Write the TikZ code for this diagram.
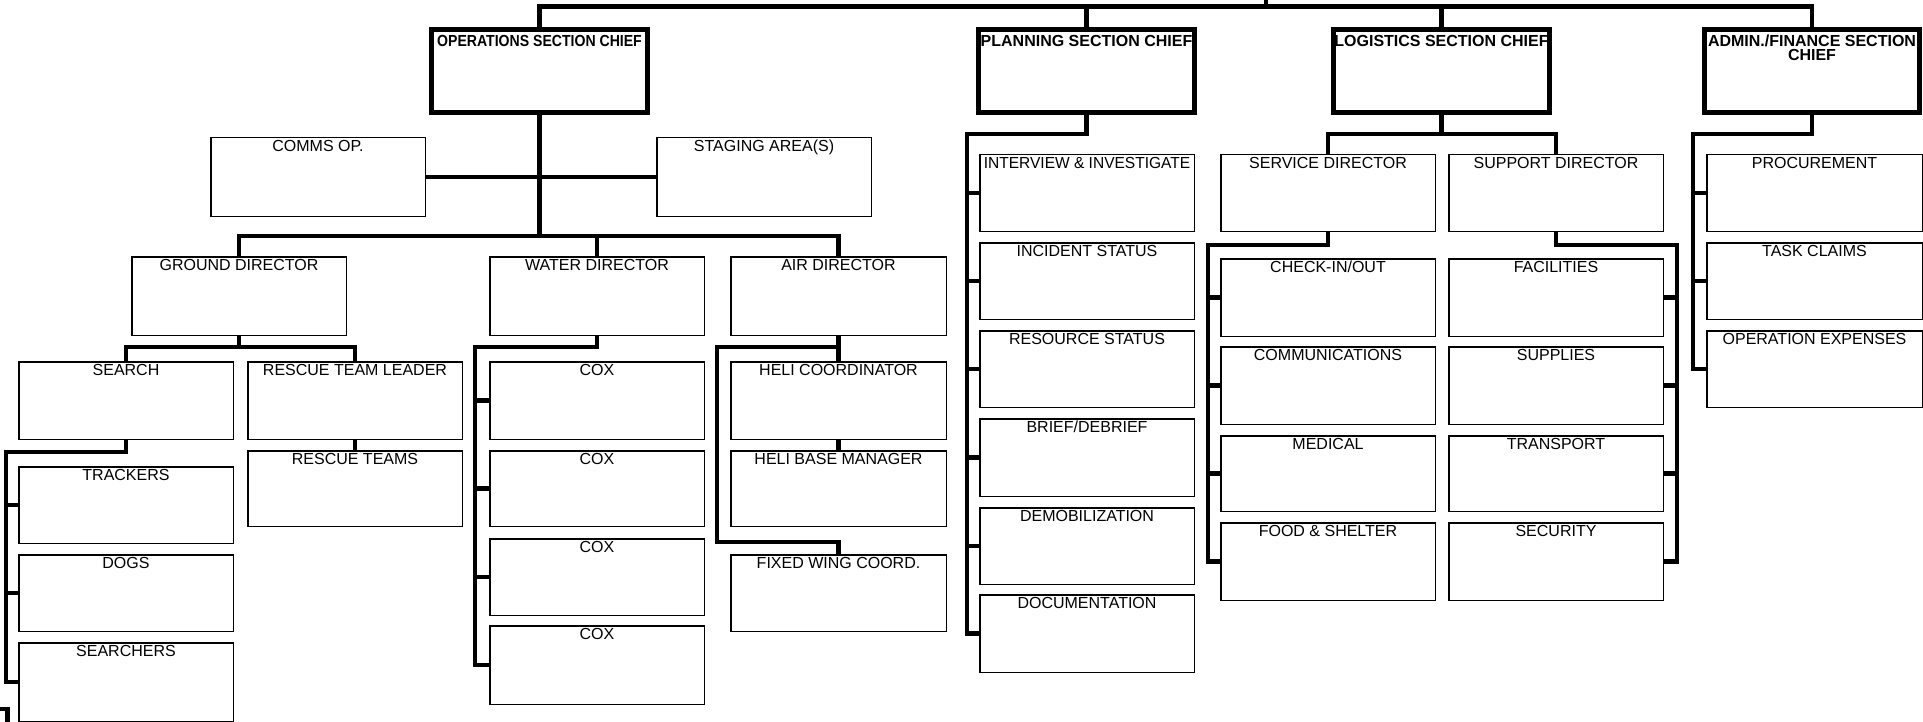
\documentclass[tikz,border=0pt]{standalone}
\usepackage{graphicx}
\usepackage{fontspec}
\setmainfont{Liberation Sans}
\newcommand\mkbox[8]{% #1 label style, #2 line width (pt), #3 name, #4 x, #5 y, #6 w, #7 h, #8 text
  \node[box, line width=#2pt, anchor=north west,
        minimum width={#6*0.5pt-#2pt}, minimum height={#7*0.5pt-#2pt}] (#3) at (#4,#5) {};
  \node[#1] (#3-t) at (#3.north) {#8};}
\begin{document}
\begin{tikzpicture}[x=0.5pt,y=-0.5pt,
  box/.style={draw=black, rectangle, inner sep=0pt},
  lbl/.style={inner sep=0pt, anchor=base, yshift=-7.1pt, font=\fontsize{8pt}{9pt}\selectfont},
  chieflbl/.style={inner sep=0pt, anchor=base, yshift=-9.8pt, font=\fontsize{8pt}{9pt}\selectfont\bfseries},
  chieflbltwo/.style={inner sep=0pt, anchor=north, yshift=-4pt, align=center, font=\fontsize{8pt}{6.75pt}\selectfont\bfseries},
  conn/.style={line width=2.1pt, line join=miter}]
\fill[white] (0,0) rectangle (1923,722);
\useasboundingbox (0,0) rectangle (1923,722);

% section chiefs
\mkbox{chieflbl}{2.5}{ops}{429}{27}{221}{88}{\scalebox{0.88}[1]{OPERATIONS SECTION CHIEF}}
\mkbox{chieflbl}{2.5}{plan}{976}{27}{221}{88}{PLANNING SECTION CHIEF}
\mkbox{chieflbl}{2.5}{log}{1331}{27}{221}{88}{LOGISTICS SECTION CHIEF}
\mkbox{chieflbltwo}{2.5}{adm}{1702}{27}{220}{88}{ADMIN./FINANCE SECTION\\CHIEF}

% operations
\mkbox{lbl}{0.75}{comms}{210}{137}{216}{80}{COMMS OP.}
\mkbox{lbl}{0.75}{stag}{656}{137}{216}{80}{STAGING AREA(S)}
\mkbox{lbl}{0.75}{gd}{131}{256}{216}{80}{GROUND DIRECTOR}
\mkbox{lbl}{0.75}{wd}{489}{256}{216}{80}{WATER DIRECTOR}
\mkbox{lbl}{0.75}{ad}{730}{256}{217}{80}{AIR DIRECTOR}
\mkbox{lbl}{0.75}{search}{18}{361}{216}{79}{SEARCH}
\mkbox{lbl}{0.75}{rtl}{247}{361}{216}{79}{RESCUE TEAM LEADER}
\mkbox{lbl}{0.75}{rt}{247}{450}{216}{77}{RESCUE TEAMS}
\mkbox{lbl}{0.75}{trk}{18}{466}{216}{78}{TRACKERS}
\mkbox{lbl}{0.75}{dogs}{18}{554}{216}{78}{DOGS}
\mkbox{lbl}{0.75}{srchs}{18}{642}{216}{80}{SEARCHERS}
\mkbox{lbl}{0.75}{cox1}{489}{361}{216}{79}{COX}
\mkbox{lbl}{0.75}{cox2}{489}{450}{216}{77}{COX}
\mkbox{lbl}{0.75}{cox3}{489}{538}{216}{78}{COX}
\mkbox{lbl}{0.75}{cox4}{489}{625}{216}{80}{COX}
\mkbox{lbl}{0.75}{hc}{730}{361}{217}{79}{HELI COORDINATOR}
\mkbox{lbl}{0.75}{hb}{730}{450}{217}{77}{HELI BASE MANAGER}
\mkbox{lbl}{0.75}{fw}{730}{554}{217}{78}{FIXED WING COORD.}

% planning
\mkbox{lbl}{0.75}{p1}{979}{154}{216}{78}{\scalebox{0.97}[1]{INTERVIEW \& INVESTIGATE}}
\mkbox{lbl}{0.75}{p2}{979}{242}{216}{78}{INCIDENT STATUS}
\mkbox{lbl}{0.75}{p3}{979}{330}{216}{78}{RESOURCE STATUS}
\mkbox{lbl}{0.75}{p4}{979}{418}{216}{79}{BRIEF/DEBRIEF}
\mkbox{lbl}{0.75}{p5}{979}{507}{216}{78}{DEMOBILIZATION}
\mkbox{lbl}{0.75}{p6}{979}{594}{216}{79}{DOCUMENTATION}

% logistics
\mkbox{lbl}{0.75}{svc}{1220}{154}{216}{78}{SERVICE DIRECTOR}
\mkbox{lbl}{0.75}{sup}{1448}{154}{216}{78}{SUPPORT DIRECTOR}
\mkbox{lbl}{0.75}{s1}{1220}{258}{216}{79}{CHECK-IN/OUT}
\mkbox{lbl}{0.75}{s2}{1220}{346}{216}{79}{COMMUNICATIONS}
\mkbox{lbl}{0.75}{s3}{1220}{435}{216}{77}{MEDICAL}
\mkbox{lbl}{0.75}{s4}{1220}{522}{216}{79}{FOOD \& SHELTER}
\mkbox{lbl}{0.75}{u1}{1448}{258}{216}{79}{FACILITIES}
\mkbox{lbl}{0.75}{u2}{1448}{346}{216}{79}{SUPPLIES}
\mkbox{lbl}{0.75}{u3}{1448}{435}{216}{77}{TRANSPORT}
\mkbox{lbl}{0.75}{u4}{1448}{522}{216}{79}{SECURITY}

% admin/finance
\mkbox{lbl}{0.75}{f1}{1706}{154}{217}{78}{PROCUREMENT}
\mkbox{lbl}{0.75}{f2}{1706}{242}{217}{78}{TASK CLAIMS}
\mkbox{lbl}{0.75}{f3}{1706}{330}{217}{78}{OPERATION EXPENSES}

% helper coordinates
\coordinate (topy) at (0,6.5);
\coordinate (ic) at (1266,-3);
\coordinate (dbar) at (0,236);
\coordinate (gbar) at (0,347);
\coordinate (strunk) at (6,452);
\coordinate (wtrunk) at (475,347);
\coordinate (atrunk) at (717,347);
\coordinate (abot) at (717,542);
\coordinate (ptrunk) at (967,134);
\coordinate (lbar) at (0,134);
\coordinate (svtrunk) at (1208,245);
\coordinate (sptrunk) at (1677,245);
\coordinate (admtrunk) at (1693,134);
\coordinate (fragA) at (-3,709);
\coordinate (fragB) at (7.5,725);

% top level
\draw[conn] (ops.north) -- (ops.north |- topy) -- (adm.north |- topy) -- (adm.north);
\draw[conn] (plan.north) -- (plan.north |- topy);
\draw[conn] (log.north) -- (log.north |- topy);
\draw[conn] (ic) -- (ic |- topy);

% operations
\draw[conn] (ops.south) -- (ops.south |- dbar);
\draw[conn] (comms.east) -- (stag.west);
\draw[conn] (gd.north) -- (gd.north |- dbar) -- (ad.north |- dbar) -- (ad.north);
\draw[conn] (wd.north) -- (wd.north |- dbar);
\draw[conn] (gd.south) -- (gd.south |- gbar);
\draw[conn] (search.north) -- (search.north |- gbar) -- (rtl.north |- gbar) -- (rtl.north);
\draw[conn] (rtl.south) -- (rt.north);
\draw[conn] (search.south) -- (search.south |- strunk) -- (strunk) -- (strunk |- srchs.west) -- (srchs.west);
\foreach \b in {trk,dogs} \draw[conn] (strunk |- \b.west) -- (\b.west);
\draw[conn] (fragA) -| (fragB);
\draw[conn] (wd.south) -- (wd.south |- wtrunk) -- (wtrunk) -- (wtrunk |- cox4.west) -- (cox4.west);
\foreach \b in {cox1,cox2,cox3} \draw[conn] (wtrunk |- \b.west) -- (\b.west);
\draw[conn] (ad.south) -- (hc.north);
\draw[conn] (hc.south) -- (hb.north);
\draw[conn] (ad.south |- atrunk) -- (atrunk) -- (abot) -- (fw.north |- abot) -- (fw.north);

% planning
\draw[conn] (plan.south) -- (plan.south |- ptrunk) -- (ptrunk) -- (ptrunk |- p6.west) -- (p6.west);
\foreach \b in {p1,p2,p3,p4,p5} \draw[conn] (ptrunk |- \b.west) -- (\b.west);

% logistics
\draw[conn] (log.south) -- (log.south |- lbar);
\draw[conn] (svc.north) -- (svc.north |- lbar) -- (sup.north |- lbar) -- (sup.north);
\draw[conn] (svc.south) -- (svc.south |- svtrunk) -- (svtrunk) -- (svtrunk |- s4.west) -- (s4.west);
\foreach \b in {s1,s2,s3} \draw[conn] (svtrunk |- \b.west) -- (\b.west);
\draw[conn] (sup.south) -- (sup.south |- sptrunk) -- (sptrunk) -- (sptrunk |- u4.east) -- (u4.east);
\foreach \b in {u1,u2,u3} \draw[conn] (sptrunk |- \b.east) -- (\b.east);

% admin
\draw[conn] (adm.south) -- (adm.south |- admtrunk) -- (admtrunk) -- (admtrunk |- f3.west) -- (f3.west);
\foreach \b in {f1,f2} \draw[conn] (admtrunk |- \b.west) -- (\b.west);
\end{tikzpicture}
\end{document}
